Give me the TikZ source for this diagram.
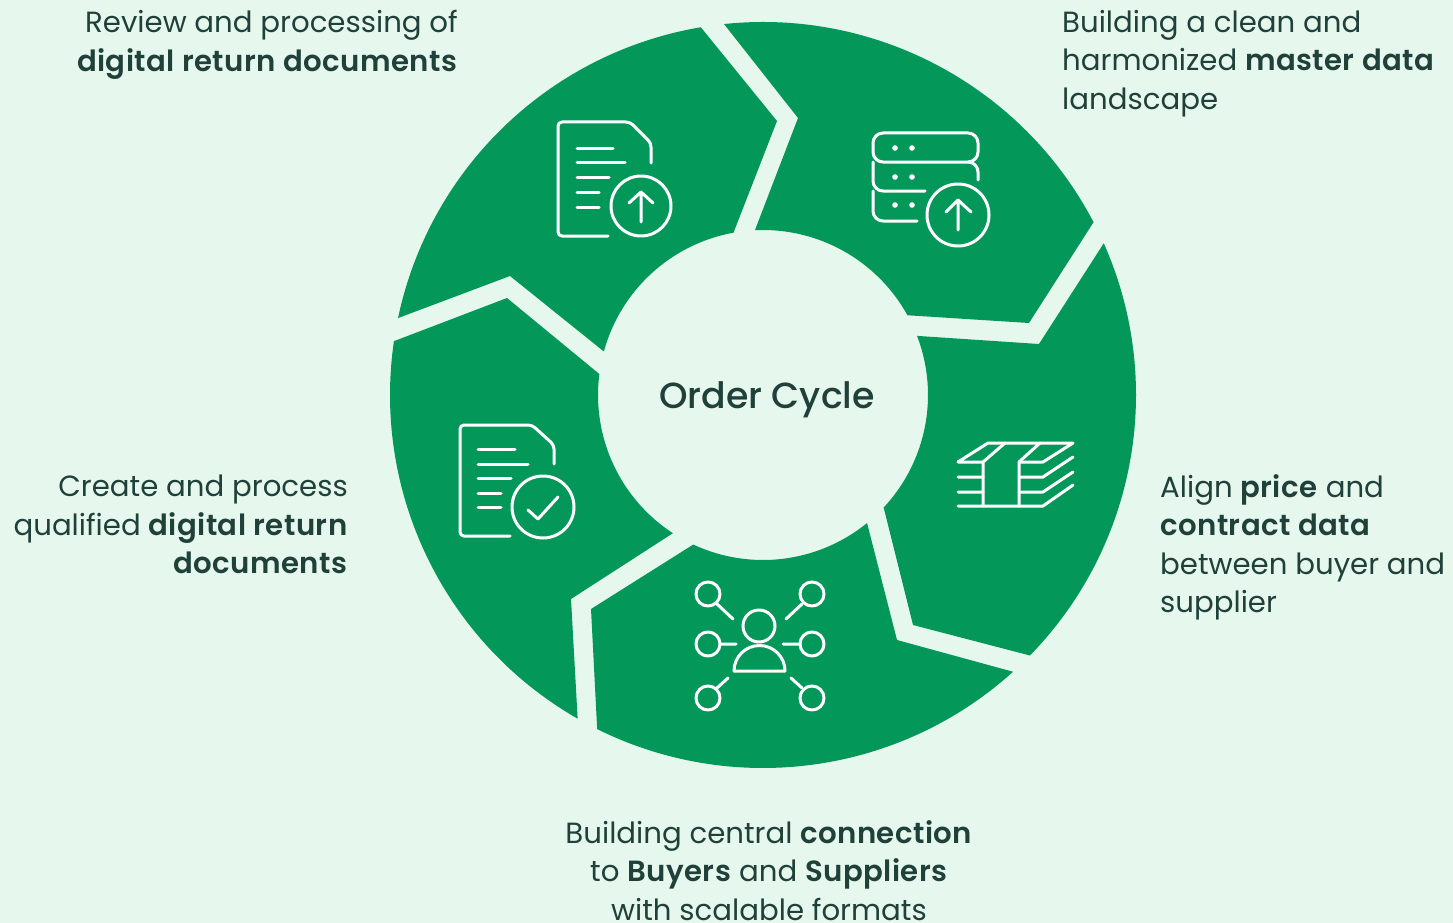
\documentclass[tikz,border=0pt]{standalone}
\usepackage{fontspec}
\setmainfont{Poppins}[BoldFont={Poppins SemiBold},BoldFeatures={LetterSpace=1.5}]
\newfontfamily\medfont{Poppins Medium}
\definecolor{pagebg}{HTML}{E6F8EE}
\definecolor{leaf}{HTML}{03985A}
\definecolor{ink}{HTML}{20403A}
\tikzset{
  seg/.style={fill=leaf,draw=none},
  ico/.style={draw=white,line width=3pt,line cap=round,line join=round,fill=none},
  lbl/.style={inner sep=0pt,text=ink,font=\fontsize{29.2}{38.5}\selectfont},
}
\newcommand{\Ol}{373}
\newcommand{\Il}{165}
\begin{document}
\begin{tikzpicture}[x=1pt,y=1pt,yscale=-1]
\useasboundingbox (0,0) rectangle (1453,923);
\fill[pagebg] (0,0) rectangle (1453,923);
\tikzset{ctr/.style={shift={(763,395)}}}
% segments
\path[seg] ([ctr]-96:\Ol) arc[start angle=-96,end angle=-27.6,radius=\Ol] -- (1029,323) -- ([ctr]-28.9:\Il) arc[start angle=-28.9,end angle=-92.8,radius=\Il] -- (798,118) -- cycle;
\path[seg] ([ctr]-24:\Ol) arc[start angle=-24,end angle=44.3,radius=\Ol] -- (913,625) -- ([ctr]43:\Il) arc[start angle=43,end angle=-21,radius=\Il] -- (1039,344) -- cycle;
\path[seg] ([ctr]47.9:\Ol) arc[start angle=47.9,end angle=116.4,radius=\Ol] -- (591,609) -- ([ctr]115:\Il) arc[start angle=115,end angle=50.9,radius=\Il] -- (897,640) -- cycle;
\path[seg] ([ctr]119.8:\Ol) arc[start angle=119.8,end angle=188.3,radius=\Ol] -- (507,298) -- ([ctr]187.3:\Il) arc[start angle=187.3,end angle=123.1,radius=\Il] -- (571,599) -- cycle;
\path[seg] ([ctr]191.9:\Ol) arc[start angle=191.9,end angle=260.4,radius=\Ol] -- (777,121) -- ([ctr]259.7:\Il) arc[start angle=259.7,end angle=195.3,radius=\Il] -- (510,276) -- cycle;
% document upload icon
\draw[ico,rounded corners=4pt] (608,236) -- (558,236) -- (558,122) -- (630,122) -- (651,143) -- (651,163);
\draw[ico] (577,148) -- (613,148) (577,162) -- (625,162) (577,177) -- (609,177) (577,192) -- (599,192) (577,207) -- (599,207);
\draw[ico] (641,206) circle[radius=30];
\draw[ico] (641,222) -- (641,192) (629,203) -- (641,192) -- (653,203);
% server icon
\draw[ico,rounded corners=10pt] (873,162) -- (873,133) -- (978,133) -- (978,162) -- cycle;
\draw[ico,rounded corners=10pt] (873,162) -- (873,191) -- (925,191);
\draw[ico,rounded corners=10pt] (968,162) -- (978,162) -- (978,180);
\draw[ico,rounded corners=10pt] (873,191) -- (873,221) -- (917,221);
\foreach \yy in {148,177,205} \foreach \xx in {895,912} \fill[white] (\xx,\yy) circle[radius=2.8];
\draw[ico] (958,215) circle[radius=31];
\draw[ico] (958,230) -- (958,200) (946,212) -- (958,200) -- (971,212);
% money icon
\draw[ico] (983,462) -- (958,462) -- (988,443) -- (1073,443) -- (1043,462) -- (1019,462);
\draw[ico] (983,462) -- (1005,443) (1019,462) -- (1040,443) (983,462) -- (983,506) (1019,462) -- (1019,506);
\draw[ico] (958,506) -- (1043,506) -- (1073,485);
\draw[ico] (958,477) -- (983,477) (1019,477) -- (1043,477) -- (1073,457);
\draw[ico] (958,492) -- (983,492) (1019,492) -- (1043,492) -- (1073,472);
% network icon
\draw[ico] (759,626) circle[radius=16];
\draw[ico] (734,671) arc[start angle=180,end angle=360,radius=25.5] -- cycle;
\foreach \xx/\yy in {708/594,812/594,708/644,812/644,708/698,812/698} \draw[ico] (\xx,\yy) circle[radius=12];
\draw[ico] (717,604) -- (733,619) (802,604) -- (786,619) (720,644) -- (736,644) (783,644) -- (800,644) (717,688) -- (728,678) (802,688) -- (791,678);
% document check icon
\draw[ico,rounded corners=4pt] (510,536) -- (460,536) -- (460,425) -- (532,425) -- (554,445) -- (554,464);
\draw[ico] (478,449) -- (515,449) (478,464) -- (528,464) (478,478) -- (511,478) (478,493) -- (501,493) (478,507) -- (501,507);
\draw[ico] (543,507) circle[radius=31];
\draw[ico] (528,510) -- (538,519) -- (558,497);
% texts
\node[lbl,anchor=north,font=\fontsize{36.3}{40}\medfont] (centre) at (767,381) {Order Cycle};
\node[lbl,anchor=north east,align=right] (t1) at (458,10) {Review and processing of\\\textbf{digital return documents}};
\node[lbl,anchor=north west,align=left] (t2) at (1062,10) {Building a clean and\\harmonized \textbf{master data}\\landscape};
\node[lbl,anchor=north west,align=left] (t3) at (1160,474) {Align \textbf{price} and\\\textbf{contract data}\\between buyer and\\supplier};
\node[lbl,anchor=north east,align=right] (t4) at (348,475) {Create and process\\qualified \textbf{digital return}\\\textbf{documents}};
\node[lbl,anchor=north,align=center] (t5) at (769,820) {Building central \textbf{connection}\\to \textbf{Buyers} and \textbf{Suppliers}\\with scalable formats};
\end{tikzpicture}
\end{document}
